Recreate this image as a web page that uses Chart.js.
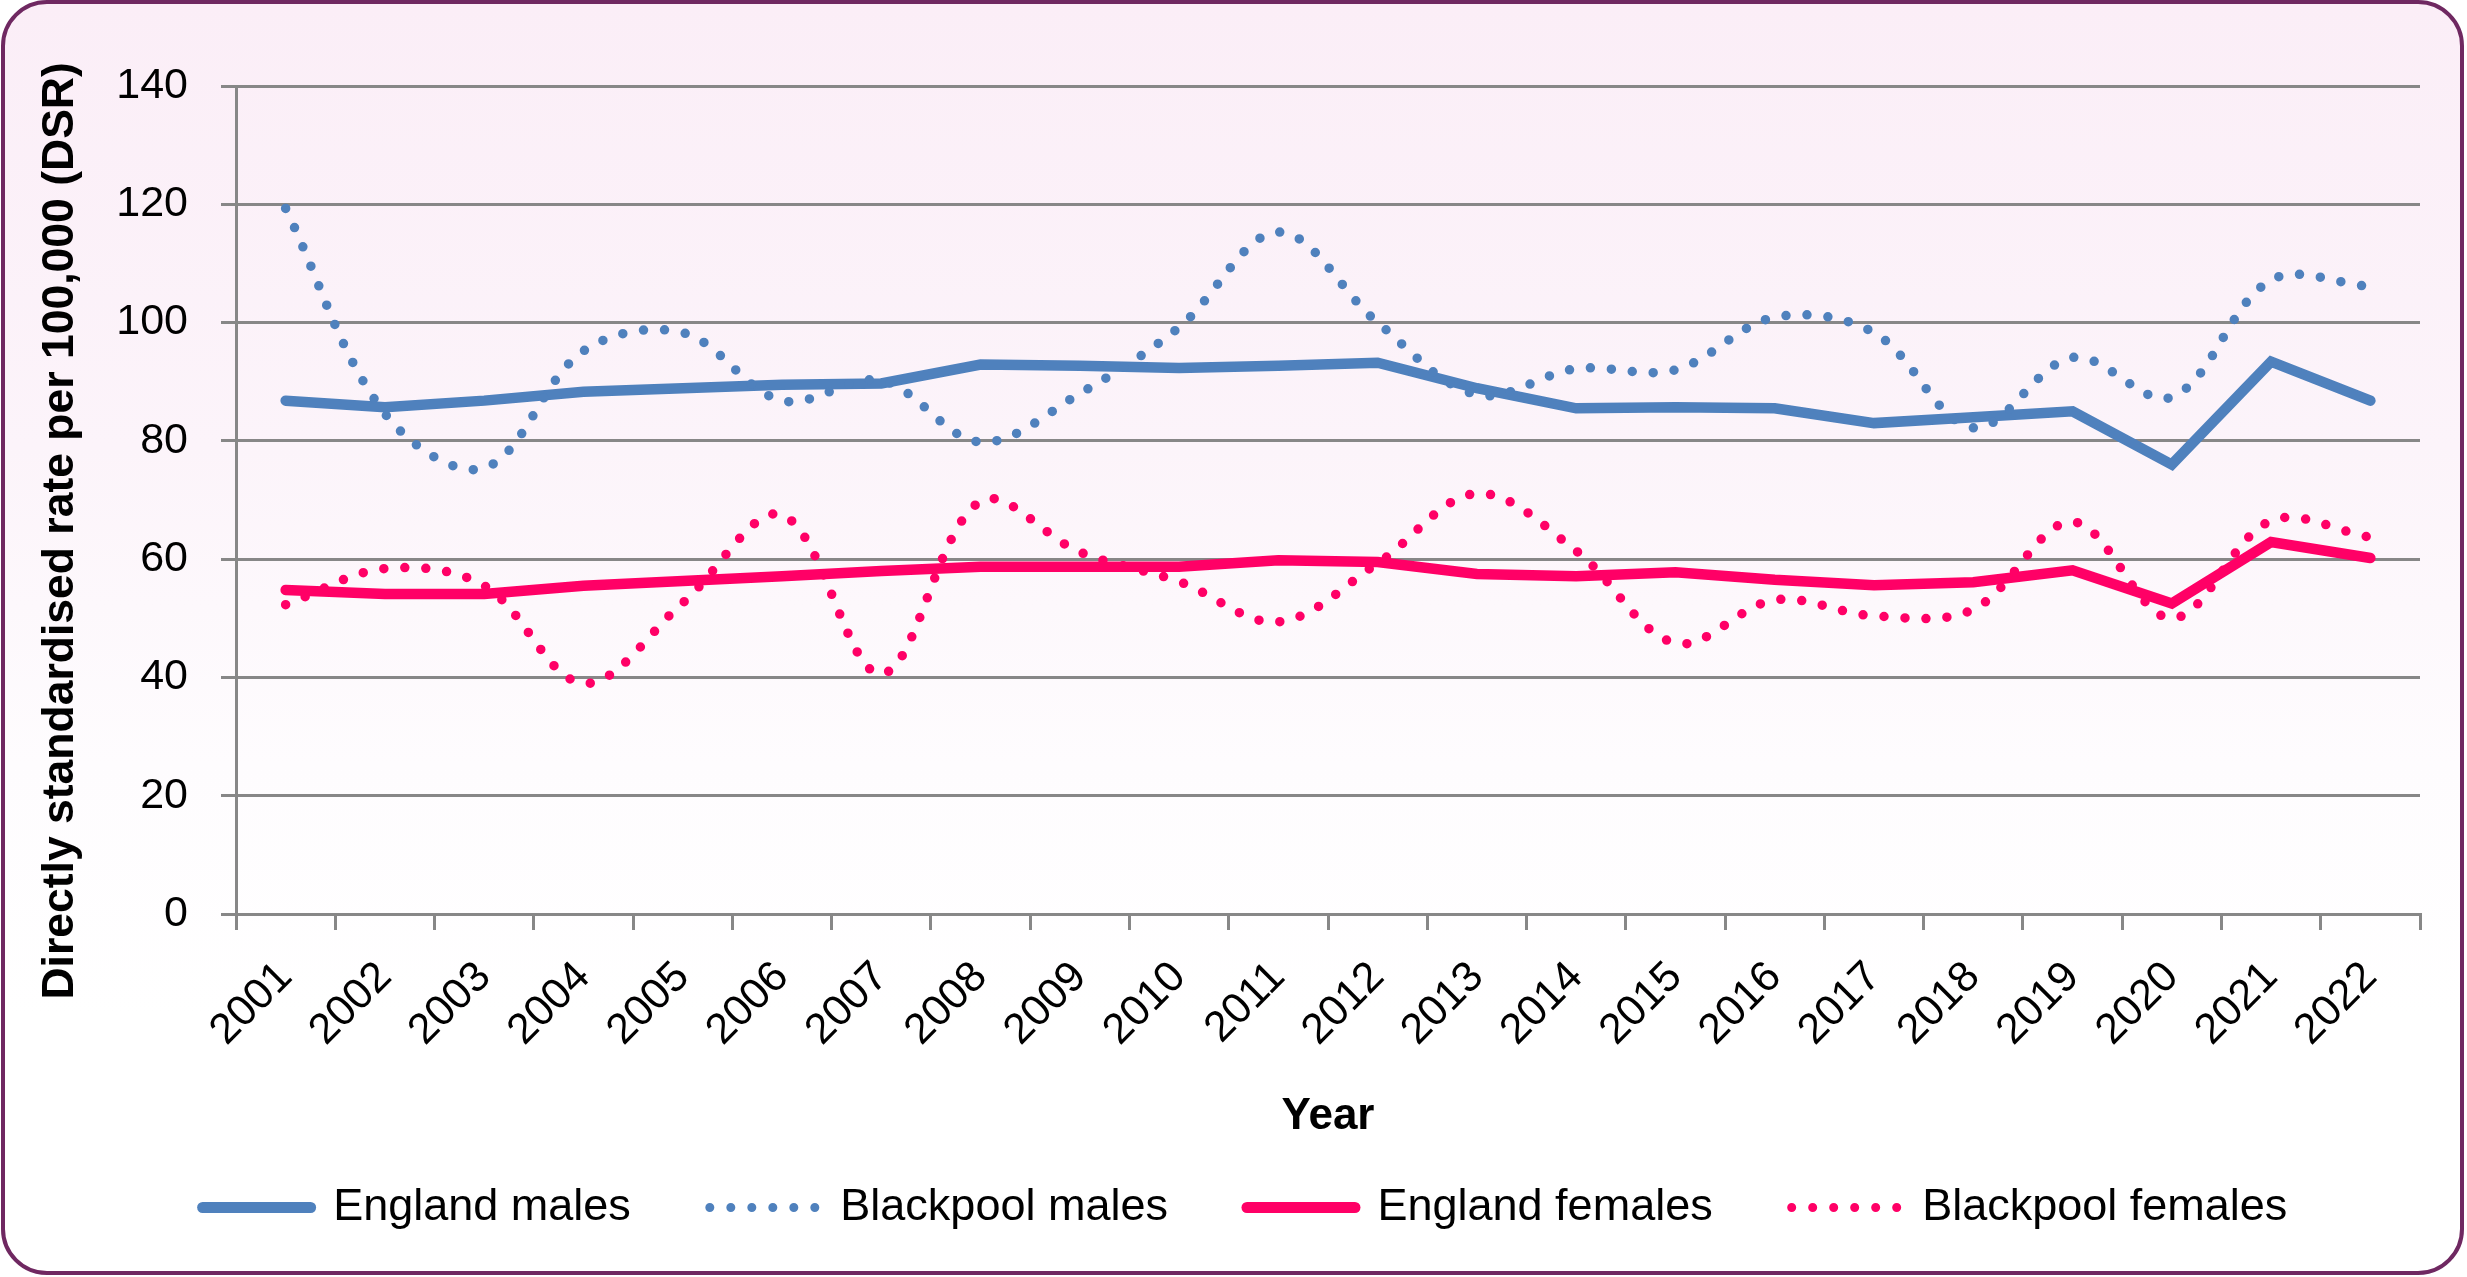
<!DOCTYPE html>
<html><head><meta charset="utf-8">
<script src="https://cdn.jsdelivr.net/npm/chart.js@4.4.1/dist/chart.umd.min.js"></script>
<style>
html,body{margin:0;padding:0;background:#fff;overflow:hidden;width:2467px;height:1277px;}
#frame{position:absolute;left:1px;top:0px;width:2455px;height:1267px;border:4px solid #6f2861;border-radius:46px;
background:linear-gradient(to bottom,#fbeef7 0%,#fcf4fa 35%,#fefcfe 60%,#ffffff 80%,#ffffff 100%);}
#c{position:absolute;left:0;top:0;}
</style></head>
<body><div id="frame"></div><canvas id="c" width="2467" height="1277"></canvas>
<script>
const years = ['2001','2002','2003','2004','2005','2006','2007','2008','2009','2010','2011','2012','2013','2014','2015','2016','2017','2018','2019','2020','2021','2022'];
const englandMales = [86.8, 85.7, 86.8, 88.3, 88.9, 89.5, 89.7, 92.9, 92.7, 92.3, 92.7, 93.2, 88.9, 85.5, 85.7, 85.5, 83.0, 84.0, 85.0, 76.0, 93.4, 86.8];
const blackpoolMales = [119.3, 84.6, 75.4, 95.2, 98.3, 86.8, 90.2, 79.8, 88.0, 99.2, 115.3, 100.0, 87.8, 92.2, 92.0, 100.9, 98.3, 82.2, 94.1, 87.4, 107.2, 106.1];
const englandFemales = [54.8, 54.1, 54.1, 55.5, 56.3, 57.1, 58.0, 58.7, 58.7, 58.7, 59.8, 59.5, 57.5, 57.1, 57.8, 56.5, 55.6, 56.1, 58.1, 52.5, 62.9, 60.2];
const blackpoolFemales = [52.3, 58.4, 55.5, 39.0, 52.6, 67.5, 40.6, 69.8, 61.2, 56.2, 49.4, 59.3, 71.1, 61.4, 45.8, 53.1, 50.4, 51.5, 66.3, 50.0, 66.5, 63.7];
const seriesNames = ['England males', 'Blackpool males', 'England females', 'Blackpool females'];
const yTitle = 'Directly standardised rate per 100,000 (DSR)';
const xTitle = 'Year';
const yTicksMin = 0, yTicksMax = 140, yStep = 20;

const BLUE = '#4f81bd', PINK = '#ff0066', GRID = '#878787';
const FONT = 'Liberation Sans';
const DOT = [0, 21];

Chart.defaults.font.family = FONT;
Chart.defaults.color = '#000';

const solid = (label, data, color, order) => ({
  label, data, borderColor: color, backgroundColor: color, borderWidth: 10.5,
  pointRadius: 0, pointHoverRadius: 0, tension: 0, fill: false,
  borderCapStyle: 'round', borderJoinStyle: 'miter', order
});
const dotted = (label, data, color, order) => ({
  label, data, borderColor: color, backgroundColor: color, borderWidth: 9.5,
  borderDash: DOT, borderCapStyle: 'round', borderJoinStyle: 'round',
  pointRadius: 0, pointHoverRadius: 0, tension: 0.35, fill: false, order
});

new Chart(document.getElementById('c'), {
  type: 'line',
  data: {
    labels: years,
    datasets: [
      solid(seriesNames[0], englandMales, BLUE, 4),
      dotted(seriesNames[1], blackpoolMales, BLUE, 3),
      solid(seriesNames[2], englandFemales, PINK, 2),
      dotted(seriesNames[3], blackpoolFemales, PINK, 1)
    ]
  },
  options: {
    responsive: false,
    animation: false,
    devicePixelRatio: 1,
    layout: { padding: { left: 70, right: 47, top: 86, bottom: 37 } },
    plugins: {
      tooltip: { enabled: false },
      legend: {
        position: 'bottom',
        labels: {
          usePointStyle: true,
          pointStyleWidth: 108,
          padding: 79,
          color: '#000',
          font: { family: FONT, size: 45 },
          generateLabels: (chart) => chart.data.datasets.map((ds, i) => ({
            text: ds.label,
            fillStyle: 'rgba(0,0,0,0)',
            strokeStyle: ds.borderColor,
            lineWidth: ds.borderDash ? 9 : 11,
            lineDash: ds.borderDash ? [0, 21] : [],
            lineCap: 'round',
            pointStyle: 'line',
            hidden: false,
            datasetIndex: i,
            fontColor: '#000'
          }))
        }
      }
    },
    scales: {
      x: {
        offset: true,
        grid: { display: true, drawOnChartArea: false, drawTicks: true, tickLength: 16, color: GRID, lineWidth: 3, offset: true },
        border: { display: true, color: GRID, width: 3 },
        ticks: { color: '#000', font: { family: FONT, size: 43 }, maxRotation: 45, minRotation: 45, padding: 22, autoSkip: false },
        title: { display: true, text: xTitle, color: '#000', font: { family: FONT, size: 44, weight: 'bold' }, padding: { top: 0, bottom: -37 } },
        afterFit: (s) => { s.height = 192; }
      },
      y: {
        min: yTicksMin, max: yTicksMax,
        ticks: { stepSize: yStep, color: '#000', font: { family: FONT, size: 43 }, padding: 33 },
        grid: { color: GRID, lineWidth: 3, tickLength: 15, drawTicks: true },
        border: { display: true, color: GRID, width: 3 },
        title: { display: true, text: yTitle + '\u00a0\u00a0\u00a0\u00a0\u00a0', color: '#000', font: { family: FONT, size: 44.5, weight: 'bold' }, padding: { top: -36, bottom: 0 } },
        afterFit: (s) => { s.width = 166; }
      }
    }
  }
});
</script>
</body></html>
